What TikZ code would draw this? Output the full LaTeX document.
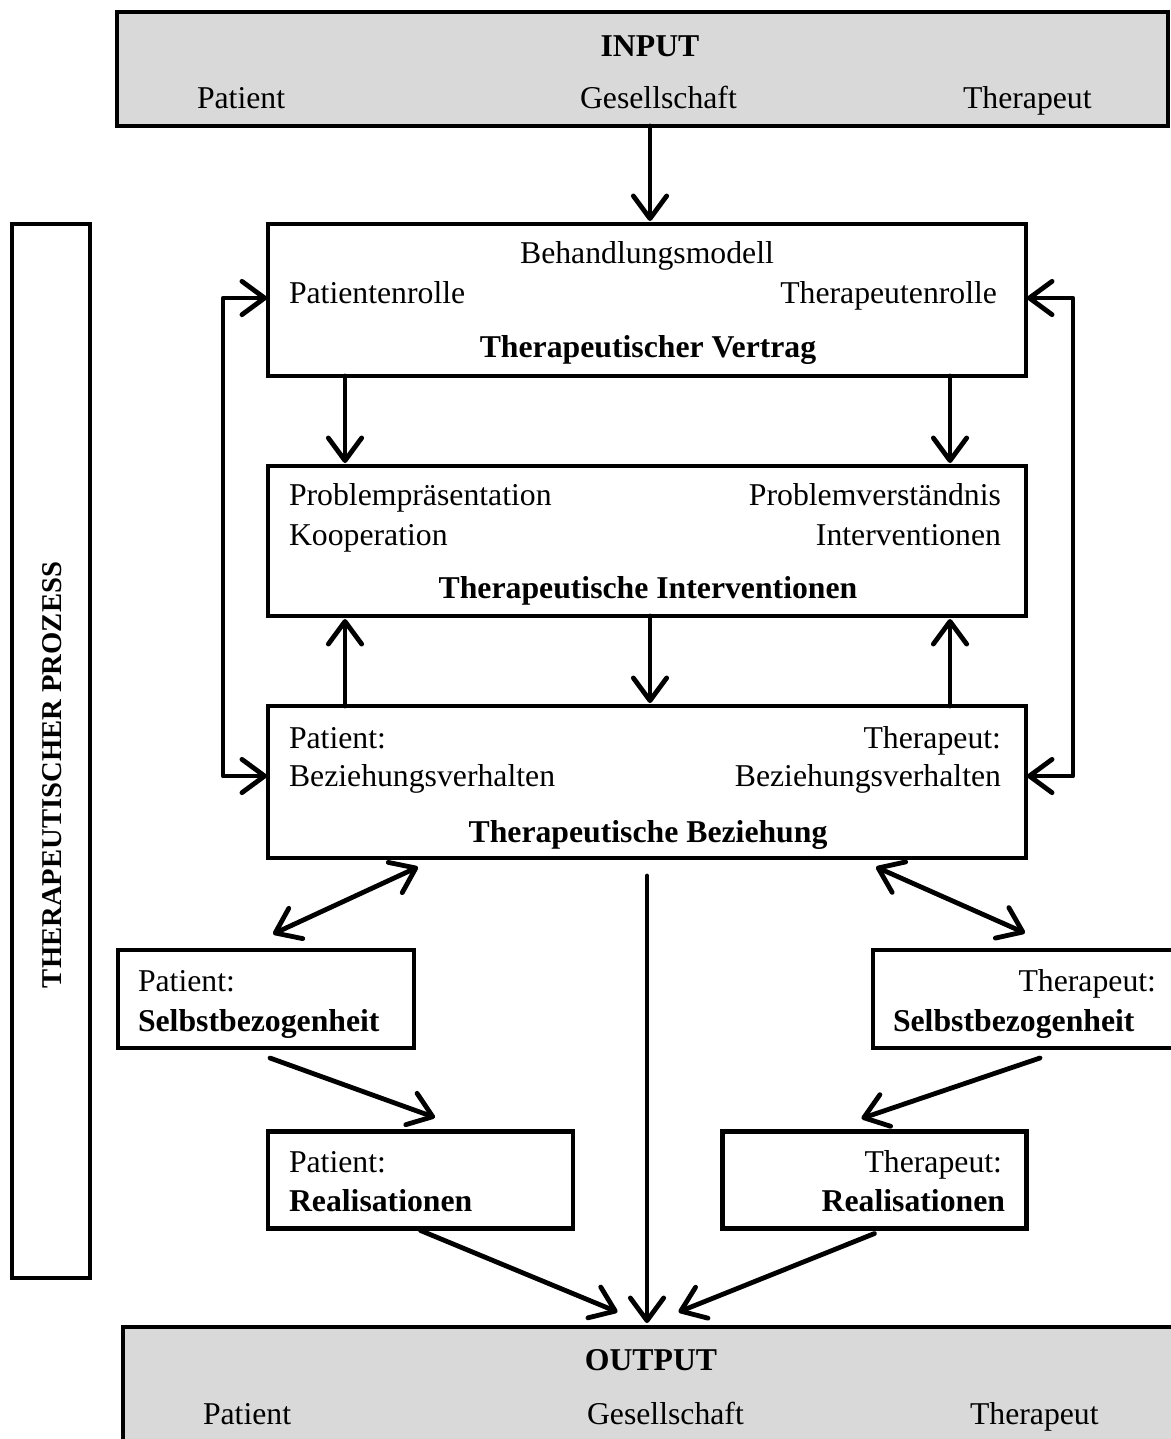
\documentclass[tikz,border=0pt]{standalone}
\usepackage{fontspec}
\setmainfont{Liberation Serif}
\usetikzlibrary{arrows.meta,calc}
\begin{document}
\begin{tikzpicture}[x=0.75pt,y=-0.75pt,
  txt/.style={font=\fontsize{23.8}{28}\selectfont, inner sep=0pt, outer sep=0pt},
  btxt/.style={txt, font=\fontsize{23.8}{28}\selectfont\bfseries},
  box/.style={draw, line width=3.6pt, inner sep=0pt, outer sep=0pt, rectangle},
  grey/.style={box, fill=boxgrey},
  tip/.tip={Straight Barb[length=17pt,width=25pt,line cap=round,line join=round]},
  arr/.style={line width=3.6pt, line cap=round, line join=round, -tip},
  dbl/.style={line width=3.6pt, line cap=round, line join=round, tip-tip}
]
\definecolor{boxgrey}{HTML}{D9D9D9}
\useasboundingbox (0,0) rectangle (1171,1439);
\clip (0,0) rectangle (1171,1439);

% boxes
\node[grey, minimum width={1051*0.75pt}, minimum height={114*0.75pt}] (input) at (642.5,69) {};
\node[box, minimum width={758*0.75pt}, minimum height={152*0.75pt}] (vertrag) at (647,300) {};
\node[box, minimum width={758*0.75pt}, minimum height={150*0.75pt}] (interv) at (647,541) {};
\node[box, minimum width={758*0.75pt}, minimum height={152*0.75pt}] (bezieh) at (647,782) {};
\node[box, minimum width={296*0.75pt}, minimum height={98*0.75pt}] (pselbst) at (266,999) {};
\node[box, minimum width={312*0.75pt}, minimum height={98*0.75pt}] (tselbst) at (1029,999) {};
\node[box, minimum width={305*0.75pt}, minimum height={97*0.75pt}] (preal) at (420.5,1180) {};
\node[box, minimum width={304*0.75pt}, minimum height={97*0.75pt}] (treal) at (874.5,1180) {};
\node[grey, minimum width={1067*0.75pt}, minimum height={133*0.75pt}] (output) at (656.5,1393.5) {};
\node[box, minimum width={78*0.75pt}, minimum height={1054*0.75pt}] (prozess) at (51,751) {};

% texts
\node[btxt, anchor=base] (tin) at (650,56) {INPUT};
\node[txt, anchor=base west] (tin1) at (197,108) {Patient};
\node[txt, anchor=base west] (tin2) at (580,108) {Gesellschaft};
\node[txt, anchor=base west] (tin3) at (963,108) {Therapeut};

\node[txt, anchor=base] (tv1) at (647,263) {Behandlungsmodell};
\node[txt, anchor=base west] (tv2) at (289,303) {Patientenrolle};
\node[txt, anchor=base east] (tv3) at (997,303) {Therapeutenrolle};
\node[btxt, anchor=base] (tv4) at (648,357) {Therapeutischer Vertrag};

\node[txt, anchor=base west] (ti1) at (289,505) {Problempräsentation};
\node[txt, anchor=base east] (ti2) at (1001,505) {Problemverständnis};
\node[txt, anchor=base west] (ti3) at (289,545) {Kooperation};
\node[txt, anchor=base east] (ti4) at (1001,545) {Interventionen};
\node[btxt, anchor=base] (ti5) at (648,598) {Therapeutische Interventionen};

\node[txt, anchor=base west] (tb1) at (289,748) {Patient:};
\node[txt, anchor=base east] (tb2) at (1001,748) {Therapeut:};
\node[txt, anchor=base west] (tb3) at (289,786) {Beziehungsverhalten};
\node[txt, anchor=base east] (tb4) at (1001,786) {Beziehungsverhalten};
\node[btxt, anchor=base] (tb5) at (648,842) {Therapeutische Beziehung};

\node[txt, anchor=base west] (tps1) at (138,991) {Patient:};
\node[btxt, anchor=base west] (tps2) at (138,1031) {Selbstbezogenheit};
\node[txt, anchor=base east] (tts1) at (1156,991) {Therapeut:};
\node[btxt, anchor=base west] (tts2) at (893,1031) {Selbstbezogenheit};

\node[txt, anchor=base west] (tpr1) at (289,1172) {Patient:};
\node[btxt, anchor=base west] (tpr2) at (289,1211) {Realisationen};
\node[txt, anchor=base east] (ttr1) at (1002,1172) {Therapeut:};
\node[btxt, anchor=base east] (ttr2) at (1005,1211) {Realisationen};

\node[btxt, anchor=base] (tout) at (651,1370) {OUTPUT};
\node[txt, anchor=base west] (tout1) at (203,1424) {Patient};
\node[txt, anchor=base west] (tout2) at (587,1424) {Gesellschaft};
\node[txt, anchor=base west] (tout3) at (970,1424) {Therapeut};

\node[btxt, font=\fontsize{21.5}{26}\selectfont\bfseries, rotate=90] (tproz) at (52,775) {THERAPEUTISCHER PROZESS};

% helper coordinates
\coordinate (xc) at (650,0);
\coordinate (xl) at (345,0);
\coordinate (xr) at (950,0);
\coordinate (lxb) at (223,776);
\coordinate (rxb) at (1073,776);
\coordinate (vtop) at (647,876);

% connectors
\draw[arr] (input.south -| xc) -- ($(vertrag.north -| xc)+(0,-3)$);
\draw[arr] (vertrag.south -| xl) -- ($(interv.north -| xl)+(0,-3)$);
\draw[arr] (vertrag.south -| xr) -- ($(interv.north -| xr)+(0,-3)$);
\draw[arr] (bezieh.north -| xl) -- ($(interv.south -| xl)+(0,3)$);
\draw[arr] (bezieh.north -| xr) -- ($(interv.south -| xr)+(0,3)$);
\draw[arr] (interv.south -| xc) -- ($(bezieh.north -| xc)+(0,-3)$);

\draw[dbl] ($(vertrag.west)+(-1,-2)$) -| (lxb) -- ($(lxb -| bezieh.west)+(-1,0)$);
\draw[dbl] ($(vertrag.east)+(1,-2)$) -| (rxb) -- ($(rxb -| bezieh.east)+(1,0)$);

\draw[dbl] ($(bezieh.south west)+(150,9)$) -- ($(pselbst.north)+(7,-16)$);
\draw[dbl] ($(bezieh.south east)+(-150,9)$) -- ($(tselbst.north west)+(152,-17)$);

\draw[arr] (vtop) -- ($(vtop |- output.north)+(0,-4)$);

\draw[arr] ($(pselbst.south)+(4,10)$) -- ($(preal.north west)+(167,-14)$);
\draw[arr] ($(tselbst.south)+(11,10)$) -- ($(treal.north west)+(139,-13)$);

\draw[arr] ($(preal.south)+(0,2)$) -- ($(output.north)+(-39,-15)$);
\draw[arr] ($(treal.south)+(0,5)$) -- ($(output.north)+(22,-15)$);
\end{tikzpicture}
\end{document}
